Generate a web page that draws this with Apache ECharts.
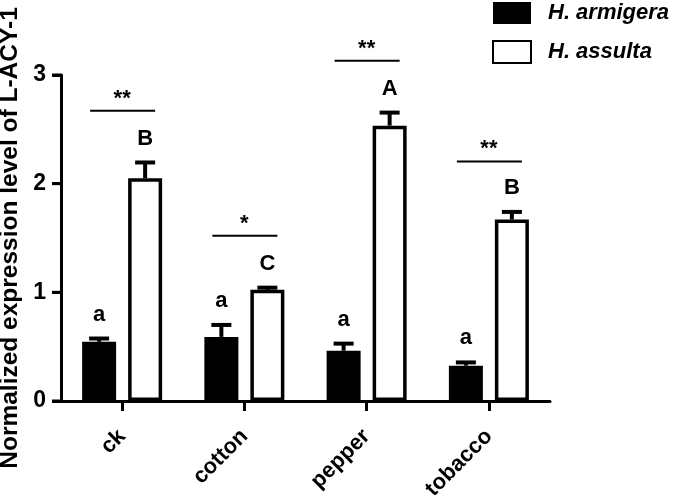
<!DOCTYPE html>
<html>
<head>
<meta charset="utf-8">
<script src="https://cdn.jsdelivr.net/npm/echarts@6/dist/echarts.min.js"></script>
<style>html,body{margin:0;padding:0;background:#fff}#c{width:675px;height:502px}</style>
</head>
<body>
<div id="c"></div>
<script>
const categories = ['ck', 'cotton', 'pepper', 'tobacco'];
const armigera = [0.545, 0.59, 0.463, 0.325];
const armigeraErr = [0.03, 0.11, 0.065, 0.03];
const assulta = [2.05, 1.023, 2.534, 1.67];
const assultaErr = [0.145, 0.02, 0.12, 0.07];
const armigeraLetters = ['a', 'a', 'a', 'a'];
const assultaLetters = ['B', 'C', 'A', 'B'];
const sigMarks = ['**', '*', '**', '**'];
const sigLineY = [2.67, 1.52, 3.13, 2.205];
const yTicks = [0, 1, 2, 3];
const seriesNames = ['H. armigera', 'H. assulta'];

const FONT = "'Liberation Sans', Arial, Helvetica, sans-serif";
const BAR_W = 34, BAR_GAP = 12;
const OFF = (BAR_W + BAR_GAP) / 2;

const chart = echarts.init(document.getElementById('c'), null, {renderer: 'canvas'});

function errData(vals, errs, side) {
  return vals.map((v, i) => [i, v, errs[i], side]);
}

function renderErr(letters) {
  return function (params, api) {
    const ci = api.value(0), mean = api.value(1), err = api.value(2), side = api.value(3);
    const base = api.coord([ci, mean]);
    const top = api.coord([ci, mean + err]);
    const x = base[0] + side * OFF;
    return {
      type: 'group',
      children: [
        {type: 'line', shape: {x1: x, y1: base[1], x2: x, y2: top[1]}, style: {stroke: '#000', lineWidth: 4}},
        {type: 'line', shape: {x1: x - 10, y1: top[1], x2: x + 10, y2: top[1]}, style: {stroke: '#000', lineWidth: 4}},
        {type: 'text', x: x, y: top[1] - 24, style: {text: letters[params.dataIndex], fill: '#000', font: 'bold 22px ' + FONT, align: 'center', verticalAlign: 'middle'}}
      ]
    };
  };
}

const option = {
  animation: false,
  backgroundColor: '#fff',
  textStyle: {fontFamily: FONT},
  legend: {
    orient: 'vertical',
    left: 487,
    top: -3,
    itemWidth: 38,
    itemHeight: 22,
    itemGap: 16,
    icon: 'rect',
    data: seriesNames,
    textStyle: {fontSize: 22, fontWeight: 'bold', fontStyle: 'italic', color: '#000', fontFamily: FONT, padding: [0, 0, 0, 12]}
  },
  grid: {left: 61, right: 125, top: 75, bottom: 101, outerBoundsMode: 'none'},
  xAxis: {
    type: 'category',
    data: categories,
    axisLine: {lineStyle: {color: '#000', width: 3}},
    axisTick: {show: true, alignWithLabel: true, length: 10, lineStyle: {color: '#000', width: 3}},
    axisLabel: {rotate: 45, margin: 32, color: '#000', fontSize: 22, fontWeight: 'bold', fontFamily: FONT},
    splitLine: {show: false}
  },
  yAxis: {
    type: 'value',
    min: yTicks[0],
    max: yTicks[yTicks.length - 1],
    interval: 1,
    name: 'Normalized expression level of L-ACY-1',
    nameLocation: 'middle',
    nameRotate: 90,
    nameGap: 36,
    nameTextStyle: {fontSize: 24.5, fontWeight: 'bold', color: '#000', fontFamily: FONT},
    axisLine: {show: true, lineStyle: {color: '#000', width: 3}},
    axisTick: {show: true, length: 9, lineStyle: {color: '#000', width: 3}},
    axisLabel: {margin: 15, color: '#000', fontSize: 23, fontWeight: 'bold', fontFamily: FONT},
    splitLine: {show: false}
  },
  series: [
    {
      name: seriesNames[0], type: 'bar', data: armigera, barWidth: BAR_W, barGap: (BAR_GAP / BAR_W * 100) + '%',
      itemStyle: {color: '#000'}
    },
    {
      name: seriesNames[1], type: 'bar', data: assulta, barWidth: BAR_W,
      itemStyle: {color: '#fff', borderColor: '#000', borderWidth: 3.5}
    },
    {
      type: 'custom', data: errData(armigera, armigeraErr, -1), renderItem: renderErr(armigeraLetters), z: 5, silent: true
    },
    {
      type: 'custom', data: errData(assulta, assultaErr, 1), renderItem: renderErr(assultaLetters), z: 5, silent: true
    },
    {
      type: 'custom', silent: true, z: 5,
      data: sigLineY.map((v, i) => [i, v]),
      renderItem: function (params, api) {
        const p = api.coord([api.value(0), api.value(1)]);
        return {
          type: 'group',
          children: [
            {type: 'line', shape: {x1: p[0] - 32, y1: p[1], x2: p[0] + 33, y2: p[1]}, style: {stroke: '#000', lineWidth: 2}},
            {type: 'text', x: p[0], y: p[1] - 12, style: {text: sigMarks[params.dataIndex], fill: '#000', font: 'bold 22px ' + FONT, align: 'center', verticalAlign: 'middle'}}
          ]
        };
      }
    },
    {
      // y-axis tick marks, positioned by the value scale
      type: 'custom', silent: true, z: 6, clip: false,
      data: yTicks.map(v => [0, v]),
      renderItem: function (params, api) {
        const p = api.coord([0, api.value(1)]);
        const x0 = params.coordSys.x;
        return {type: 'line', shape: {x1: x0 - 9, y1: p[1], x2: x0, y2: p[1]}, style: {stroke: '#000', lineWidth: 3}};
      }
    }
  ]
};
chart.setOption(option);
</script>
</body>
</html>
